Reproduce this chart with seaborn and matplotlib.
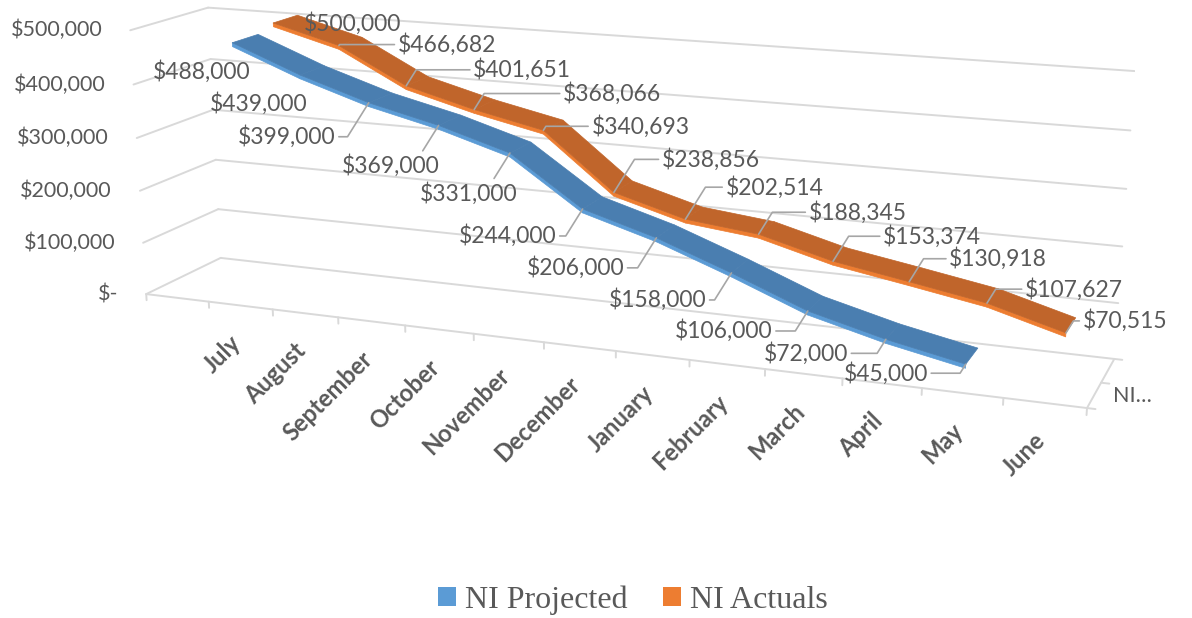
import matplotlib
matplotlib.use("Agg")
import matplotlib.pyplot as plt
from matplotlib.patches import Patch
import numpy as np
import pandas as pd
import seaborn as sns

# data
months = ["July", "August", "September", "October", "November", "December",
          "January", "February", "March", "April", "May", "June"]
ni_projected = [488000, 439000, 399000, 369000, 331000, 244000,
                206000, 158000, 106000, 72000, 45000, np.nan]
ni_actuals = [500000, 466682, 401651, 368066, 340693, 238856,
              202514, 188345, 153374, 130918, 107627, 70515]
value_ticks = [0, 100000, 200000, 300000, 400000, 500000]
value_tick_labels = ["$-", "$100,000", "$200,000", "$300,000", "$400,000", "$500,000"]
series_names = ["NI Projected", "NI Actuals"]

df = pd.DataFrame({"month": months, "NI Projected": ni_projected, "NI Actuals": ni_actuals})

# where each data label sits relative to its point (pixels, right / down), and leader on/off
label_dx = {"NI Projected": [-31, -41, -82, -48, -41, -75, -81, -74, -84, -80, -80],
            "NI Actuals": [79, 108, 116, 138, 97, 97, 89, 99, 99, 89, 87, 59]}
label_dy = {"NI Projected": [29, 29, 34, 40, 40, 27, 30, 27, 20, 14, 9],
            "NI Actuals": [1, -1, -16, -16, -4, -33, -32, -22, -25, -23, -14, -12]}
no_leader = {"NI Projected": [0, 1], "NI Actuals": [0]}

sns.set_theme(style="white")
plt.rcParams["font.family"] = ["Lato", "DejaVu Sans"]

TEXT = "#595959"
GRID = "#d9d9d9"
LEADER = "#a6a6a6"
top_colors = {"NI Projected": "#4a7eb0", "NI Actuals": "#c0652b"}
edge_colors = dict(zip(series_names, sns.color_palette(["#5b9bd5", "#ed7d31"])))
depth = {"NI Projected": 0.45, "NI Actuals": 1.55}
half_w = 0.34
thick = 7000

fig = plt.figure(figsize=(11.92, 6.18), dpi=100)
ax = fig.add_axes([26.5 / 1192, -260.5 / 618, 1109 / 1192, 1109 / 618],
                  projection="3d", computed_zorder=False)
ax.set_axis_off()

n = len(months)
x0, x1 = -1.5, n - 0.5
y0, y1 = 0.0, 2.0
zmax = value_ticks[-1]

# back wall, side wall and floor edges
for v in value_ticks:
    ax.plot([x0, x1], [y1, y1], [v, v], color=GRID, lw=1.4, zorder=1)
    ax.plot([x0, x0], [y0, y1], [v, v], color=GRID, lw=1.4, zorder=1)
ax.plot([x0, x1], [y0, y0], [0, 0], color=GRID, lw=1.4, zorder=1)
ax.plot([x1, x1], [y0, y1], [0, 0], color=GRID, lw=1.4, zorder=1)
for k in np.arange(x0, x1 + 0.01, 1.0):
    ax.plot([k, k], [y0, y0], [0, -12000], color=GRID, lw=1.4, zorder=1)
for d in [y0, 1.0, y1]:
    ax.plot([x1, x1 + 0.1], [d, d], [0, 0], color=GRID, lw=1.4, zorder=1)

# ribbons, back series first
z = 3
for name in ["NI Actuals", "NI Projected"]:
    s = df[name].dropna()
    xi = s.index.to_numpy(dtype=float)
    v = s.to_numpy(dtype=float)
    d = depth[name]
    X = np.vstack([xi, xi])
    ax.plot_surface(X, np.full(X.shape, d - half_w), np.vstack([v - thick, v]),
                    color=edge_colors[name], edgecolor=edge_colors[name],
                    lw=0.5, shade=False, zorder=z)
    ax.plot_surface(X, np.vstack([np.full(len(xi), d - half_w), np.full(len(xi), d + half_w)]),
                    np.vstack([v, v]), color=top_colors[name], edgecolor=top_colors[name],
                    lw=0.5, shade=False, zorder=z + 1)
    z += 2

# camera box: centred on the point the Excel camera looks at
zlo = -445000
xlo = -1.84
ax.set_xlim(xlo, x1)
ax.set_ylim(y0, y1)
ax.set_zlim(zlo, zmax)
ax.set_box_aspect((0.4156 * (x1 - xlo) / (x1 - x0), 0.0643, 0.1182 * (zmax - zlo) / zmax))
ax.view_init(elev=16.9, azim=-68.5, roll=0)
ax.set_proj_type("persp", focal_length=0.3753)

M = ax.get_proj()


def to2d(x, y, zz):
    p = M @ np.array([x, y, zz, 1.0])
    return p[0] / p[3], p[1] / p[3]


# data labels with leader lines
for name in series_names:
    s = df[name].dropna()
    for i, v in s.items():
        arrow = None
        if i not in no_leader[name]:
            arrow = dict(arrowstyle="-", color=LEADER, lw=1.2, shrinkA=0, shrinkB=0,
                         connectionstyle="angle,angleA=0,angleB=58,rad=0")
        ax.annotate(f"${v:,.0f}", xy=to2d(i, depth[name] - half_w, v), xycoords="data",
                    xytext=(label_dx[name][i], -label_dy[name][i]), textcoords="offset pixels",
                    ha="center", va="center", fontsize=16.5, color=TEXT, zorder=10,
                    annotation_clip=False, arrowprops=arrow)

# category labels
for i, m in enumerate(months):
    ax.annotate(m, xy=to2d(i, y0, 0), xytext=(5, -26), textcoords="offset pixels",
                rotation=45, ha="right", va="top", fontsize=17, fontweight="bold",
                color=TEXT, annotation_clip=False)

# value axis labels
for v, lab in zip(value_ticks, value_tick_labels):
    ax.annotate(lab, xy=to2d(x0, y0, v), xytext=(-28, 0), textcoords="offset pixels",
                ha="right", va="center", fontsize=15.5, color=TEXT, annotation_clip=False)

# series axis label (truncated as in the original)
ax.annotate("NI\u2026", xy=to2d(x1, depth["NI Projected"], 0), xytext=(20, 0),
            textcoords="offset pixels", ha="left", va="center", fontsize=15.5,
            color=TEXT, annotation_clip=False)

handles = [Patch(facecolor=edge_colors[nm], edgecolor="none", label=nm) for nm in series_names]
fig.legend(handles=handles, loc="center", bbox_to_anchor=(633 / 1192, 1 - 600 / 618),
           ncol=2, frameon=False, prop={"family": "Liberation Serif", "size": 23},
           labelcolor=TEXT, handlelength=0.55, handleheight=0.55,
           handletextpad=0.3, columnspacing=1.1)

fig.savefig("out.png", dpi=100)
